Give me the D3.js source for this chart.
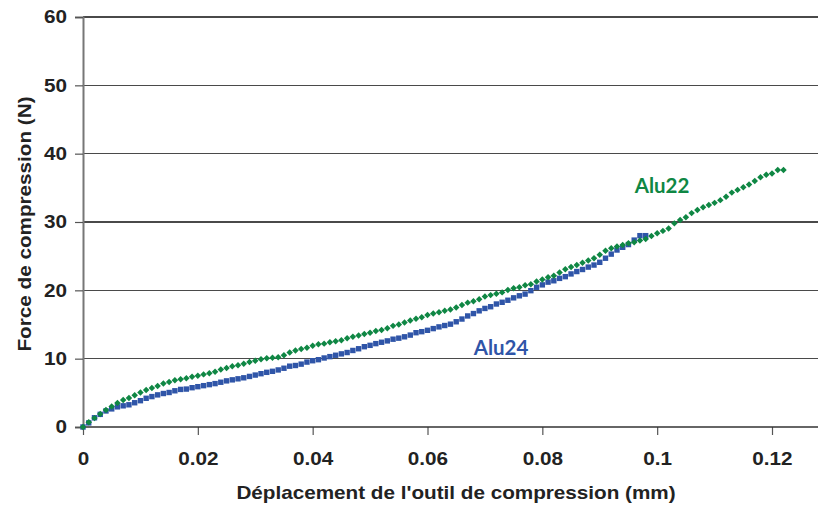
<!DOCTYPE html>
<html><head><meta charset="utf-8">
<script src="https://cdn.jsdelivr.net/npm/d3@7"></script>
<style>body{margin:0;background:#fff}svg{display:block}</style>
</head><body>
<svg id="c" width="818" height="507"></svg>
<script>
const xTicks = [0, 0.02, 0.04, 0.06, 0.08, 0.1, 0.12];
const xTickLabels = ["0", "0.02", "0.04", "0.06", "0.08", "0.1", "0.12"];
const yTicks = [0, 10, 20, 30, 40, 50, 60];
const seriesNames = ["Alu22", "Alu24"];
const step = 0.001; // displacement step between measured points (mm)
const alu22 = [0,0.7,1.3,1.9,2.5,3.0,3.5,3.95,4.25,4.65,5.05,5.4,5.7,6.0,6.35,6.6,6.85,7.0,7.15,7.35,
  7.5,7.7,7.85,8.1,8.4,8.65,8.9,9.05,9.25,9.5,9.7,9.9,10.05,10.15,10.2,10.5,10.9,11.2,11.4,11.6,
  11.9,12.1,12.2,12.4,12.55,12.7,13.0,13.2,13.4,13.6,13.8,14.05,14.2,14.45,14.8,15.0,15.3,15.6,15.85,16.05,
  16.4,16.6,16.8,17.0,17.2,17.5,17.85,18.2,18.4,18.7,19.1,19.3,19.5,19.7,20.05,20.3,20.45,20.75,20.9,21.3,
  21.6,21.9,22.15,22.6,23.1,23.4,23.7,24.05,24.35,24.7,25.2,25.8,26.15,26.4,26.65,26.9,27.05,27.3,27.5,27.95,
  28.35,28.7,29.05,29.8,30.3,30.7,31.3,31.75,32.15,32.5,32.8,33.2,33.7,34.3,34.7,35.1,35.5,36.0,36.55,36.9,
  37.1,37.6,37.6];
const alu24 = [0,0.6,1.35,1.85,2.35,2.65,2.95,3.1,3.25,3.55,3.85,4.2,4.45,4.7,4.9,5.05,5.3,5.5,5.55,5.75,
  5.9,6.05,6.2,6.35,6.55,6.75,6.9,7.05,7.2,7.4,7.6,7.8,8.0,8.15,8.35,8.6,8.9,9.0,9.2,9.5,
  9.7,9.85,10.1,10.3,10.5,10.7,10.9,11.2,11.45,11.75,11.95,12.2,12.4,12.6,12.85,13.0,13.2,13.45,13.8,13.95,
  14.15,14.4,14.65,14.85,15.05,15.4,15.8,16.25,16.6,17.0,17.35,17.6,18.0,18.25,18.55,18.9,19.2,19.45,19.95,20.45,
  20.8,21.2,21.4,21.75,22.0,22.4,22.75,23.05,23.4,23.7,24.1,24.7,25.3,25.9,26.3,26.7,27.35,28.0,28.0];

const svg = d3.select("#c");
const x = d3.scaleLinear().domain([0, 0.12]).range([83, 772]);
const y = d3.scaleLinear().domain([0, 60]).range([427, 17]);
const right = 818;
const stretch = 1.15;
const font = "Liberation Sans, Arial, sans-serif";

// gridlines
svg.append("g").selectAll("line").data(yTicks.filter(d => d > 0)).join("line")
  .attr("x1", x(0)).attr("x2", right).attr("y1", d => y(d)).attr("y2", d => y(d))
  .attr("stroke", "#4a4a4a").attr("stroke-width", 1.2).attr("shape-rendering", "crispEdges");

// y axis
const yAxis = svg.append("g").attr("transform", `translate(${x(0)},0)`)
  .call(d3.axisLeft(y).tickValues(yTicks).tickSize(8).tickPadding(8).tickFormat(d3.format("d")));
yAxis.select(".domain").attr("stroke", "#777").attr("stroke-width", 2);
yAxis.selectAll(".tick line").attr("stroke", "#555").attr("stroke-width", 1.2);
yAxis.selectAll("text").attr("font-family", font).attr("x", -16 / stretch)
  .attr("transform", `scale(${stretch},1)`)
  .attr("font-weight", "bold").attr("font-size", 18).attr("fill", "#222");

// x axis
const xAxis = svg.append("g").attr("transform", `translate(0,${y(0)})`)
  .call(d3.axisBottom(x).tickValues(xTicks).tickSize(8).tickPadding(17)
    .tickFormat((d, i) => xTickLabels[i]));
xAxis.select(".domain").remove();
xAxis.append("line").attr("x1", x(0)).attr("x2", right).attr("stroke", "#333").attr("stroke-width", 1.5);
xAxis.selectAll(".tick line").attr("stroke", "#555").attr("stroke-width", 1.2);
xAxis.selectAll("text").attr("font-family", font).attr("transform", `scale(${stretch},1)`)
  .attr("font-weight", "bold").attr("font-size", 18).attr("fill", "#222");

// series
const pts22 = alu22.map((v, i) => ({x: i * step, y: v}));
const pts24 = alu24.map((v, i) => ({x: i * step, y: v}));

svg.append("g").selectAll("rect").data(pts24).join("rect")
  .attr("x", d => x(d.x) - 2.7).attr("y", d => y(d.y) - 2.7)
  .attr("width", 5.4).attr("height", 5.4).attr("fill", "#2f55a8");

const diamond = d3.symbol().type(d3.symbolSquare).size(21);
svg.append("g").selectAll("path").data(pts22).join("path")
  .attr("transform", d => `translate(${x(d.x)},${y(d.y)}) rotate(45)`)
  .attr("d", diamond).attr("fill", "#0f8744");

// series labels
svg.append("text").attr("x", 662).attr("y", 193).attr("text-anchor", "middle")
  .attr("font-family", "Lato, sans-serif").attr("font-weight", "bold").attr("font-size", 20.5)
  .attr("fill", "#0f8744").text(seriesNames[0]);
svg.append("text").attr("x", 501).attr("y", 355).attr("text-anchor", "middle")
  .attr("font-family", "Lato, sans-serif").attr("font-weight", "bold").attr("font-size", 20.5)
  .attr("fill", "#2f55a8").text(seriesNames[1]);

// axis titles
svg.append("text").attr("transform", `translate(456,499) scale(${stretch},1)`).attr("text-anchor", "middle")
  .attr("font-family", font).attr("font-weight", "bold")
  .attr("font-size", 18).attr("fill", "#222").text("Déplacement de l'outil de compression (mm)");
svg.append("text").attr("transform", `translate(31,224) rotate(-90) scale(${stretch},1)`).attr("text-anchor", "middle")
  .attr("font-family", font).attr("font-weight", "bold")
  .attr("font-size", 18).attr("fill", "#222").text("Force de compression (N)");
</script>
</body></html>
